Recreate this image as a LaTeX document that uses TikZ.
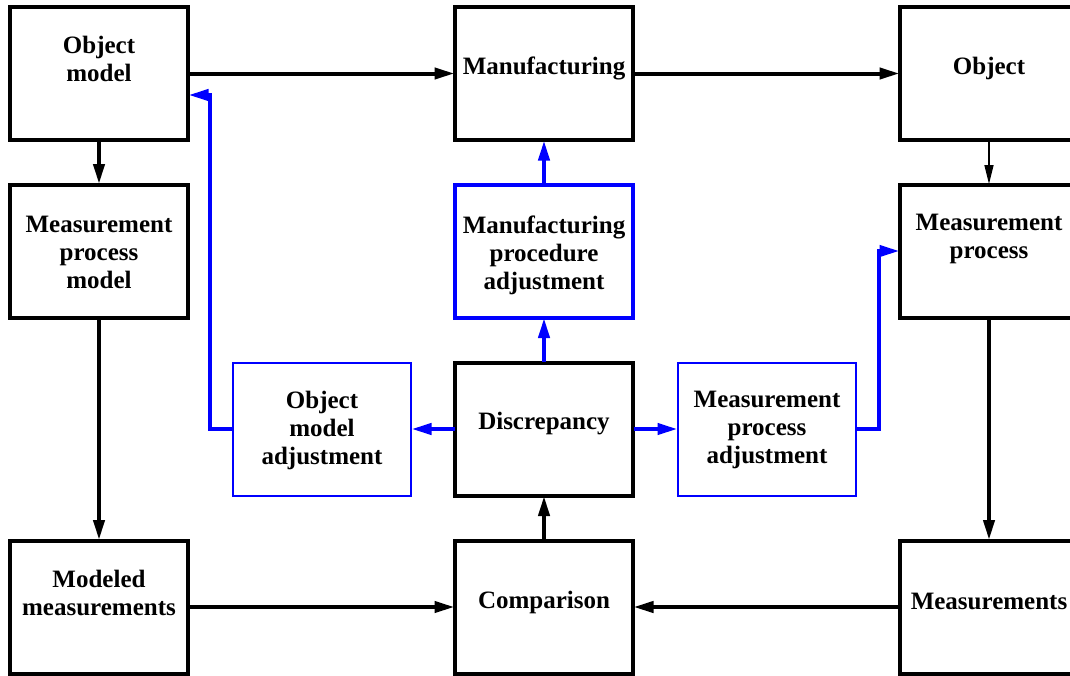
\documentclass[tikz,border=0pt]{standalone}
\usepackage{fontspec}
\setmainfont{Liberation Serif}
\usetikzlibrary{arrows.meta,positioning}

\begin{document}
\begin{tikzpicture}[x=1pt,y=-1pt,
	box/.style={draw=black,line width=4pt,minimum width=178pt,minimum height=133pt,inner sep=0pt,outer sep=0.5pt},
	bluebox/.style={box,draw=blue},
	thinbox/.style={box,draw=blue,line width=2pt},
	lbl/.style={font=\fontsize{25}{28}\selectfont\bfseries,align=center,inner sep=0pt},
	arr/.style={line width=4pt,-{Triangle[length=20pt,width=11pt]}},
	barr/.style={arr,blue},
	thinarr/.style={line width=1.5pt,-{Triangle[length=19pt,width=9pt]}}]
	\clip (0,0) rectangle (1070,675);

	\node[box] (om) at (99,73.5) {};
	\node[box] (mf) at (544,73.5) {};
	\node[box] (ob) at (989,73.5) {};
	\node[box] (mpm) at (99,251) {};
	\node[bluebox] (mpa) at (544,251) {};
	\node[box] (mp) at (989,251) {};
	\node[thinbox] (oma) at (322,429) {};
	\node[box] (dc) at (544,429) {};
	\node[thinbox] (mpadj) at (767,429) {};
	\node[box] (mm) at (99,607) {};
	\node[box] (cp) at (544,607) {};
	\node[box] (ms) at (989,607) {};

	\node[lbl] (om-l) at ([yshift=15pt]om.center) {Object\\model};
	\node[lbl] (mf-l) at ([yshift=5pt]mf.center) {Manufacturing};
	\node[lbl] (ob-l) at ([yshift=5pt]ob.center) {Object};
	\node[lbl] (mpm-l) at ([yshift=-1pt]mpm.center) {Measurement\\process\\model};
	\node[lbl] (mpa-l) at ([yshift=-4pt]mpa.center) {Manufacturing\\procedure\\adjustment};
	\node[lbl] (mp-l) at ([yshift=12pt]mp.center) {Measurement\\process};
	\node[lbl] (oma-l) at ([yshift=-1pt]oma.center) {Object\\model\\adjustment};
	\node[lbl] (dc-l) at ([yshift=5pt]dc.center) {Discrepancy};
	\node[lbl] (mpadj-l) at ([yshift=-1pt]mpadj.center) {Measurement\\process\\adjustment};
	\node[lbl] (mm-l) at ([yshift=14pt]mm.center) {Modeled\\measurements};
	\node[lbl] (cp-l) at ([yshift=5pt]cp.center) {Comparison};
	\node[lbl] (ms-l) at ([yshift=6pt]ms.center) {Measurements};

	\coordinate (omin) at ([yshift=-21.5pt]om.east);

	\draw[arr] (om) -- (mf);
	\draw[arr] (mf) -- (ob);
	\draw[arr] (om) -- (mpm);
	\draw[thinarr] (ob) -- (mp);
	\draw[arr] (mpm) -- (mm);
	\draw[arr] (mp) -- (ms);
	\draw[arr] (mm) -- (cp);
	\draw[arr] (ms) -- (cp);
	\draw[arr] (cp) -- (dc);
	\draw[barr] (dc) -- (mpa);
	\draw[barr] (mpa) -- (mf);
	\draw[barr] (dc) -- (oma);
	\draw[barr] (dc) -- (mpadj);
	\draw[barr] (oma.west) -- ++(-23,0) |- (omin);
	\draw[barr] (mpadj.east) -- ++(22,0) |- (mp.west);
\end{tikzpicture}
\end{document}
